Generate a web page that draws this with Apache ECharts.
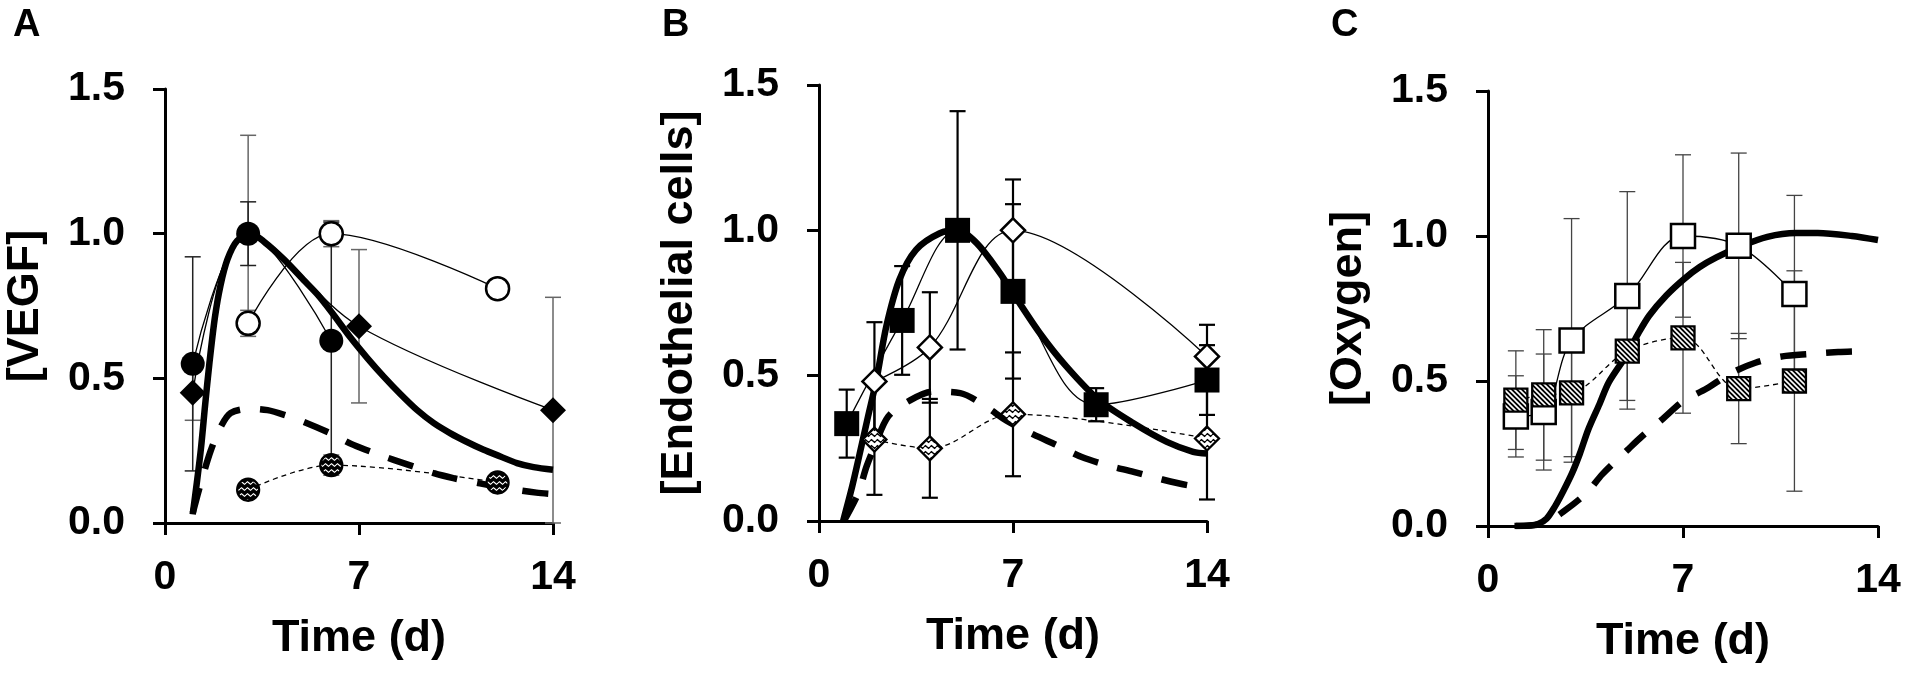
<!DOCTYPE html>
<html>
<head>
<meta charset="utf-8">
<script src="https://cdn.jsdelivr.net/npm/echarts@6/dist/echarts.min.js"></script>
<style>
  html, body { margin: 0; padding: 0; background: #fff; }
  #main { width: 1908px; height: 673px; }
</style>
</head>
<body>
<div id="main"></div>
<script>
// ---- panel A : VEGF ----
const aFilledDays = [1, 3, 6];
const aFilledVals = [0.55, 1.0, 0.63];
const aFilledErr = [0.37, 0.11, 0.41];
const aDiamondDays = [1, 3, 7, 14];
const aDiamondVals = [0.45, 1.0, 0.68, 0.39];
const aDiamondErr = [0.095, 0.34, 0.265, 0.39];
const aOpenDays = [3, 6, 12];
const aOpenVals = [0.69, 1.0, 0.81];
const aOpenErr = [0.045, 0.045, 0.03];
const aHatchDays = [3, 6, 12];
const aHatchVals = [0.115, 0.2, 0.14];
const aHatchErr = [0.01, 0.035, 0.02];
const aModelT = [1.0, 1.15, 1.3, 1.45, 1.6, 1.8, 2.0, 2.25, 2.6, 3.1, 3.6, 4.3, 5.0, 5.5, 6.0, 6.7, 7.3, 7.9, 8.5, 9.1, 9.7, 10.3, 10.9, 11.5, 12.1, 12.7, 13.3, 14.0];
const aModelV = [0.03, 0.14, 0.26, 0.41, 0.55, 0.71, 0.82, 0.91, 0.975, 1.0, 0.97, 0.91, 0.84, 0.79, 0.73, 0.64, 0.57, 0.505, 0.445, 0.39, 0.345, 0.31, 0.28, 0.253, 0.23, 0.207, 0.193, 0.184];
const aDashT = [1.0, 1.3, 1.65, 2.0, 2.37, 3.1, 3.7, 4.3, 5.0, 5.97, 6.8, 7.9, 8.6, 9.7, 10.4, 11.3, 12.2, 13.4, 14.0];
const aDashV = [0.034, 0.14, 0.25, 0.33, 0.38, 0.395, 0.39, 0.374, 0.35, 0.31, 0.27, 0.23, 0.207, 0.172, 0.155, 0.138, 0.122, 0.105, 0.10];

// ---- panel B : endothelial cells ----
const bSquareDays = [1, 3, 5, 7, 10, 14];
const bSquareVals = [0.335, 0.69, 1.0, 0.79, 0.40, 0.485];
const bSquareErr = [0.117, 0.187, 0.41, 0.30, 0.057, 0.12];
const bOpenDays = [2, 4, 7, 14];
const bOpenVals = [0.48, 0.597, 1.0, 0.566];
const bOpenErr = [0.204, 0.19, 0.175, 0.109];
const bHatchDays = [2, 4, 7, 14];
const bHatchVals = [0.28, 0.25, 0.367, 0.284];
const bHatchErr = [0.19, 0.17, 0.213, 0.21];
const bModelT = [0.87, 1.2, 1.47, 1.77, 2.07, 2.43, 2.9, 3.5, 4.36, 5.0, 5.69, 6.53, 7.0, 7.97, 8.94, 10.1, 11.35, 12.55, 13.5, 14.0];
const bModelV = [0.0, 0.12, 0.232, 0.36, 0.485, 0.67, 0.83, 0.933, 0.99, 1.0, 0.956, 0.853, 0.784, 0.646, 0.53, 0.416, 0.336, 0.272, 0.238, 0.232];
const bDashT = [0.9, 1.41, 1.71, 2.0, 2.5, 3.3, 4.1, 5.1, 6.0, 6.77, 7.73, 8.58, 9.48, 10.4, 11.35, 12.25, 13.3, 14.0];
const bDashV = [0.0, 0.094, 0.186, 0.255, 0.36, 0.416, 0.445, 0.44, 0.395, 0.345, 0.298, 0.261, 0.22, 0.192, 0.169, 0.146, 0.123, 0.117];

// ---- panel C : oxygen ----
const cDays = [1, 2, 3, 5, 7, 9, 11];
const cOpenVals = [0.378, 0.393, 0.64, 0.793, 1.0, 0.966, 0.80];
const cOpenErr = [0.14, 0.2, 0.42, 0.36, 0.28, 0.32, 0.34];
const cHatchVals = [0.434, 0.452, 0.459, 0.603, 0.649, 0.474, 0.50];
const cHatchErr = [0.17, 0.225, 0.22, 0.2, 0.26, 0.19, 0.38];
const cModelT = [0.95, 1.5, 1.8, 2.1, 2.4, 2.7, 3.03, 3.3, 3.6, 4.0, 4.34, 5.0, 5.4, 5.79, 6.4, 7.04, 7.6, 8.2, 9.03, 10.03, 11.06, 11.84, 13.06, 14.0];
const cModelV = [0.0, 0.002, 0.007, 0.025, 0.067, 0.12, 0.185, 0.25, 0.333, 0.42, 0.496, 0.593, 0.665, 0.726, 0.795, 0.852, 0.893, 0.926, 0.963, 0.997, 1.01, 1.01, 1.0, 0.986];
const cDashT = [1.0, 2.0, 2.74, 3.55, 4.1, 5.06, 5.55, 6.28, 7.0, 7.85, 8.7, 9.6, 10.57, 11.54, 12.57, 13.48];
const cDashV = [0.0, 0.008, 0.052, 0.115, 0.178, 0.267, 0.311, 0.37, 0.43, 0.474, 0.526, 0.563, 0.585, 0.593, 0.6, 0.603];

const xTicks = [0, 7, 14];
const yTicks = [0, 0.5, 1.0, 1.5];
const yNames = ['[VEGF]', '[Endothelial cells]', '[Oxygen]'];
const panelLetters = ['A', 'B', 'C'];

const FONT = '"Liberation Sans", Arial, sans-serif';

// striped fills for the hatched markers (drawn in pixel space by custom series)
function makeHatch(kind) {
  const c = document.createElement('canvas');
  const g = c.getContext('2d');
  if (kind === 'diag') {
    c.width = 5; c.height = 5;
    g.fillStyle = '#000';
    g.fillRect(0, 0, 5, 5);
    g.strokeStyle = '#fff';
    g.lineWidth = 1.6;
    g.beginPath();
    g.moveTo(-5, 0); g.lineTo(5, 10);
    g.moveTo(0, 0); g.lineTo(5, 5);
    g.moveTo(0, -5); g.lineTo(10, 5);
    g.stroke();
  } else {
    const light = kind === 'waveLight';
    c.width = 6; c.height = 6;
    g.fillStyle = light ? '#fff' : '#000';
    g.fillRect(0, 0, 6, 6);
    g.strokeStyle = light ? '#000' : '#fff';
    g.lineWidth = light ? 1.5 : 1.1;
    g.beginPath();
    g.moveTo(0, 3); g.lineTo(1.5, 1.7); g.lineTo(3, 3); g.lineTo(4.5, 4.3); g.lineTo(6, 3);
    g.stroke();
  }
  return { image: c, repeat: 'repeat' };
}
const hatchA = makeHatch('waveDark');
const hatchB = makeHatch('waveLight');
const hatchC = makeHatch('diag');

function pairs(xs, ys) {
  return xs.map((x, i) => [x, ys[i]]);
}

function modelLine(idx, xs, ys, dashed) {
  return {
    type: 'line', xAxisIndex: idx, yAxisIndex: idx, z: 2,
    data: pairs(xs, ys), symbol: 'none', smooth: 0.3, clip: true,
    lineStyle: { color: '#000', width: 6.5, type: dashed ? [26, 20] : 'solid', cap: 'butt' },
    silent: true, emphasis: { disabled: true }
  };
}

function dataLine(idx, xs, ys, opts) {
  return {
    type: 'line', xAxisIndex: idx, yAxisIndex: idx, z: 4,
    data: pairs(xs, ys).map((p, i) => (opts.hide && opts.hide.indexOf(i) > -1) ? { value: p, symbol: 'none' } : p),
    symbol: opts.symbol || 'none', symbolSize: opts.size, smooth: 0.35,
    lineStyle: { color: '#000', width: 1.3, type: opts.dashed ? [5, 4] : 'solid' },
    itemStyle: { color: opts.fill || '#000', borderColor: '#000', borderWidth: opts.border || 0, opacity: 1 },
    silent: true, emphasis: { disabled: true }
  };
}

function hatchMarkers(idx, xs, ys, shape, size, fill) {
  return {
    type: 'custom', xAxisIndex: idx, yAxisIndex: idx, z: 5, silent: true,
    data: pairs(xs, ys),
    renderItem: function (params, api) {
      const p = api.coord([api.value(0), api.value(1)]);
      const r = size / 2;
      const style = { fill: fill, stroke: '#000', lineWidth: 2.3 };
      if (shape === 'circle') {
        return { type: 'circle', shape: { cx: p[0], cy: p[1], r: r }, style: style };
      }
      if (shape === 'rect') {
        return { type: 'rect', shape: { x: p[0] - r, y: p[1] - r, width: size, height: size }, style: style };
      }
      return {
        type: 'polygon',
        shape: { points: [[p[0], p[1] - r], [p[0] + r, p[1]], [p[0], p[1] + r], [p[0] - r, p[1]]] },
        style: style
      };
    }
  };
}

function errorBars(idx, xs, ys, errs, color, width) {
  return {
    type: 'custom', xAxisIndex: idx, yAxisIndex: idx, z: 1, silent: true,
    data: xs.map((x, i) => [x, ys[i] - errs[i], ys[i] + errs[i]]),
    renderItem: function (params, api) {
      const lo = api.coord([api.value(0), api.value(1)]);
      const hi = api.coord([api.value(0), api.value(2)]);
      const w = 8;
      const style = { stroke: color, lineWidth: width };
      return {
        type: 'group',
        children: [
          { type: 'line', shape: { x1: lo[0], y1: lo[1], x2: hi[0], y2: hi[1] }, style: style },
          { type: 'line', shape: { x1: lo[0] - w, y1: lo[1], x2: lo[0] + w, y2: lo[1] }, style: style },
          { type: 'line', shape: { x1: hi[0] - w, y1: hi[1], x2: hi[0] + w, y2: hi[1] }, style: style }
        ]
      };
    }
  };
}

const grids = [
  { left: 165, top: 89, width: 388, height: 434 },
  { left: 819, top: 85, width: 388, height: 436 },
  { left: 1488, top: 91, width: 390, height: 435 }
];
const letterX = [8, 657, 1326];

const axisLine = { show: true, lineStyle: { color: '#000', width: 3 } };
const axisTick = { show: true, inside: false, length: 12, lineStyle: { color: '#000', width: 3 } };

const xAxes = grids.map((g, i) => ({
  type: 'value', gridIndex: i, min: xTicks[0], max: xTicks[xTicks.length - 1], interval: xTicks[1] - xTicks[0],
  name: 'Time (d)', nameLocation: 'middle', nameGap: 93,
  nameTextStyle: { fontFamily: FONT, fontWeight: 'bold', fontSize: 45, color: '#000' },
  axisLine: axisLine, axisTick: axisTick, splitLine: { show: false },
  axisLabel: { margin: 34, fontFamily: FONT, fontWeight: 'bold', fontSize: 41, color: '#000' }
}));

const yAxes = grids.map((g, i) => ({
  type: 'value', gridIndex: i, min: yTicks[0], max: yTicks[yTicks.length - 1], interval: yTicks[1] - yTicks[0],
  name: yNames[i], nameLocation: 'middle', nameGap: 117,
  nameTextStyle: { fontFamily: FONT, fontWeight: 'bold', fontSize: 45, color: '#000' },
  axisLine: axisLine, axisTick: axisTick, splitLine: { show: false },
  axisLabel: { margin: 40, fontFamily: FONT, fontWeight: 'bold', fontSize: 41, color: '#000',
    formatter: v => v.toFixed(1) }
}));

const series = [
  // A
  errorBars(0, aDiamondDays, aDiamondVals, aDiamondErr, '#666', 1.5),
  errorBars(0, aOpenDays, aOpenVals, aOpenErr, '#666', 1.5),
  errorBars(0, aHatchDays, aHatchVals, aHatchErr, '#666', 1.5),
  errorBars(0, aFilledDays, aFilledVals, aFilledErr, '#222', 1.5),
  modelLine(0, aModelT, aModelV, false),
  modelLine(0, aDashT, aDashV, true),
  dataLine(0, aDiamondDays, aDiamondVals, { symbol: 'diamond', size: 26, hide: [1] }),
  dataLine(0, aOpenDays, aOpenVals, { symbol: 'circle', size: 23, fill: '#fff', border: 2.5 }),
  dataLine(0, aHatchDays, aHatchVals, { dashed: true }),
  hatchMarkers(0, aHatchDays, aHatchVals, 'circle', 22, hatchA),
  dataLine(0, aFilledDays, aFilledVals, { symbol: 'circle', size: 24 }),
  // B
  errorBars(1, bSquareDays, bSquareVals, bSquareErr, '#000', 2.2),
  errorBars(1, bOpenDays, bOpenVals, bOpenErr, '#000', 2.2),
  errorBars(1, bHatchDays, bHatchVals, bHatchErr, '#000', 2.2),
  modelLine(1, bModelT, bModelV, false),
  modelLine(1, bDashT, bDashV, true),
  dataLine(1, bOpenDays, bOpenVals, { symbol: 'diamond', size: 24, fill: '#fff', border: 2.5 }),
  dataLine(1, bHatchDays, bHatchVals, { dashed: true }),
  hatchMarkers(1, bHatchDays, bHatchVals, 'diamond', 24, hatchB),
  dataLine(1, bSquareDays, bSquareVals, { symbol: 'rect', size: 25 }),
  // C
  errorBars(2, cDays, cOpenVals, cOpenErr, '#444', 1.3),
  errorBars(2, cDays, cHatchVals, cHatchErr, '#444', 1.3),
  modelLine(2, cModelT, cModelV, false),
  modelLine(2, cDashT, cDashV, true),
  dataLine(2, cDays, cOpenVals, { symbol: 'rect', size: 24, fill: '#fff', border: 2.5 }),
  dataLine(2, cDays, cHatchVals, { dashed: true }),
  hatchMarkers(2, cDays, cHatchVals, 'rect', 23, hatchC)
];

const chart = echarts.init(document.getElementById('main'), null, { renderer: 'canvas' });
chart.setOption({
  animation: false,
  backgroundColor: '#fff',
  title: panelLetters.map((t, i) => ({
    text: t, left: letterX[i], top: 2,
    textStyle: { fontFamily: FONT, fontWeight: 'bold', fontSize: 38, color: '#000' }
  })),
  grid: grids,
  xAxis: xAxes,
  yAxis: yAxes,
  series: series
});
</script>
</body>
</html>
